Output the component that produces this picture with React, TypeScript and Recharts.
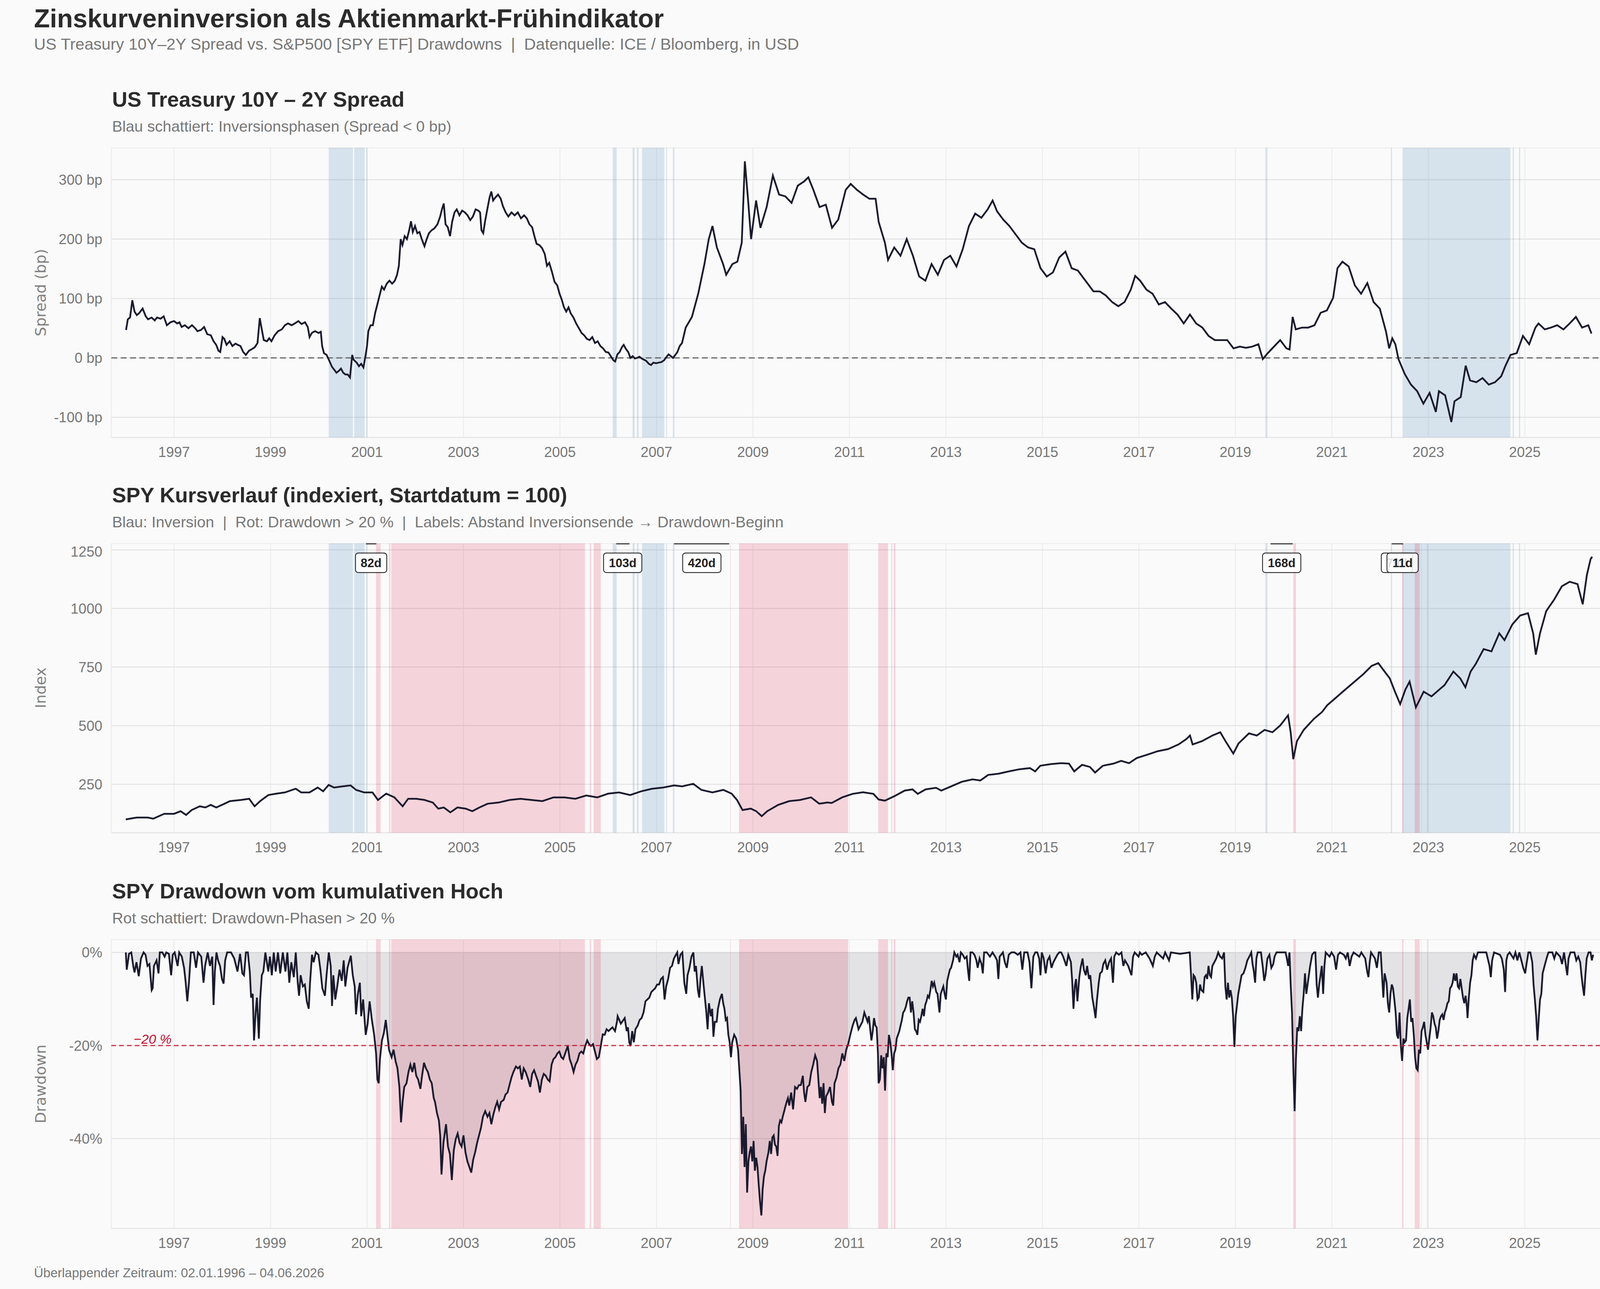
import React from 'react';
import {
  ComposedChart,
  Line,
  Area,
  XAxis,
  YAxis,
  CartesianGrid,
  ReferenceArea,
  ReferenceLine,
  Scatter,
} from 'recharts';

// ---------------- data ----------------
const yearTicks = [1997, 1999, 2001, 2003, 2005, 2007, 2009, 2011, 2013, 2015, 2017, 2019, 2021, 2023, 2025];
const spreadTicks = [-100, 0, 100, 200, 300];
const indexTicks = [250, 500, 750, 1000, 1250];
const drawdownTicks = [-40, -20, 0];

// [decimal year, spread in bp]
const spreadSeries: number[][] = [
  [1996.005,47],[1996.042,65],[1996.088,68],[1996.135,97],[1996.181,78],[1996.228,72],[1996.274,75],[1996.349,83],[1996.414,70],[1996.46,65],
  [1996.535,68],[1996.6,63],[1996.647,68],[1996.721,66],[1996.786,70],[1996.851,55],[1996.926,60],[1997.0,62],[1997.065,58],[1997.112,60],
  [1997.158,52],[1997.223,55],[1997.298,50],[1997.372,55],[1997.437,50],[1997.484,45],[1997.558,47],[1997.623,52],[1997.688,40],[1997.763,38],
  [1997.819,28],[1997.874,22],[1997.921,12],[1997.958,10],[1998.005,35],[1998.042,32],[1998.088,22],[1998.153,28],[1998.209,20],[1998.274,24],
  [1998.321,22],[1998.377,20],[1998.433,10],[1998.488,5],[1998.553,12],[1998.619,15],[1998.674,18],[1998.73,25],[1998.777,67],[1998.814,50],
  [1998.86,30],[1998.926,28],[1998.972,33],[1999.019,28],[1999.084,38],[1999.158,45],[1999.233,48],[1999.298,55],[1999.363,58],[1999.437,55],
  [1999.502,58],[1999.577,62],[1999.642,57],[1999.716,60],[1999.772,52],[1999.809,35],[1999.856,42],[1999.921,45],[1999.995,42],[2000.042,44],
  [2000.07,20],[2000.107,8],[2000.163,5],[2000.219,-5],[2000.274,-15],[2000.321,-20],[2000.367,-25],[2000.414,-22],[2000.46,-18],[2000.507,-25],
  [2000.553,-28],[2000.6,-28],[2000.647,-33],[2000.693,5],[2000.721,-3],[2000.786,-8],[2000.833,-14],[2000.879,-10],[2000.926,-16],[2000.972,5],
  [2001.0,20],[2001.028,45],[2001.074,55],[2001.121,55],[2001.167,75],[2001.214,90],[2001.26,105],[2001.307,120],[2001.353,115],[2001.409,125],
  [2001.465,130],[2001.521,125],[2001.577,130],[2001.623,140],[2001.66,155],[2001.698,200],[2001.735,190],[2001.781,205],[2001.828,200],[2001.874,215],
  [2001.912,230],[2001.949,212],[2001.995,222],[2002.042,210],[2002.088,212],[2002.135,200],[2002.191,188],[2002.237,200],[2002.284,210],[2002.34,215],
  [2002.395,218],[2002.46,225],[2002.516,238],[2002.553,250],[2002.591,260],[2002.628,225],[2002.674,220],[2002.721,205],[2002.767,230],[2002.814,245],
  [2002.86,250],[2002.916,240],[2002.972,248],[2003.028,245],[2003.084,240],[2003.14,232],[2003.195,238],[2003.251,250],[2003.307,248],[2003.344,245],
  [2003.372,215],[2003.409,210],[2003.447,230],[2003.493,250],[2003.54,270],[2003.577,280],[2003.614,265],[2003.66,270],[2003.716,275],[2003.772,268],
  [2003.819,255],[2003.874,245],[2003.93,238],[2003.995,245],[2004.06,240],[2004.126,245],[2004.191,235],[2004.256,240],[2004.312,235],[2004.367,225],
  [2004.423,220],[2004.47,205],[2004.516,192],[2004.572,190],[2004.628,185],[2004.684,175],[2004.73,155],[2004.777,160],[2004.833,145],[2004.888,128],
  [2004.944,122],[2004.991,108],[2005.037,98],[2005.084,85],[2005.13,78],[2005.177,85],[2005.223,75],[2005.279,68],[2005.335,58],[2005.391,50],
  [2005.447,42],[2005.502,38],[2005.558,32],[2005.614,30],[2005.67,35],[2005.726,25],[2005.781,28],[2005.837,20],[2005.893,16],[2005.949,10],
  [2006.005,9],[2006.06,2],[2006.107,-4],[2006.144,-6],[2006.191,6],[2006.237,10],[2006.284,18],[2006.321,22],[2006.367,15],[2006.414,10],
  [2006.46,0],[2006.507,3],[2006.553,-1],[2006.6,0],[2006.647,2],[2006.693,-1],[2006.74,-3],[2006.786,-5],[2006.842,-10],[2006.888,-12],
  [2006.935,-8],[2006.991,-9],[2007.047,-8],[2007.102,-7],[2007.158,-4],[2007.202,1],[2007.251,6],[2007.298,3],[2007.342,0],[2007.391,5],
  [2007.435,10],[2007.481,20],[2007.53,25],[2007.606,51],[2007.735,69],[2007.865,108],[2007.994,158],[2008.084,200],[2008.161,222],[2008.252,186],
  [2008.381,158],[2008.445,140],[2008.574,158],[2008.677,162],[2008.768,194],[2008.832,331],[2008.897,268],[2008.961,200],[2009.065,265],[2009.155,219],
  [2009.284,254],[2009.413,307],[2009.542,275],[2009.671,272],[2009.8,261],[2009.929,290],[2010.058,297],[2010.148,304],[2010.252,283],[2010.381,254],
  [2010.51,258],[2010.639,219],[2010.768,233],[2010.923,283],[2011.026,293],[2011.155,283],[2011.284,275],[2011.413,268],[2011.542,268],[2011.606,229],
  [2011.735,194],[2011.8,165],[2011.929,186],[2012.058,172],[2012.187,200],[2012.316,172],[2012.445,137],[2012.574,130],[2012.703,158],[2012.832,140],
  [2012.961,165],[2013.09,172],[2013.219,154],[2013.348,183],[2013.477,222],[2013.606,243],[2013.735,236],[2013.865,250],[2013.968,265],[2014.058,247],
  [2014.187,233],[2014.316,222],[2014.445,208],[2014.574,194],[2014.703,186],[2014.832,183],[2014.961,151],[2015.09,137],[2015.219,144],[2015.348,169],
  [2015.477,179],[2015.606,151],[2015.735,147],[2015.929,126],[2016.058,112],[2016.187,112],[2016.316,105],[2016.445,94],[2016.574,87],[2016.703,94],
  [2016.832,115],[2016.923,138],[2017.026,130],[2017.155,115],[2017.284,108],[2017.413,90],[2017.542,94],[2017.671,83],[2017.8,73],[2017.929,58],
  [2018.058,73],[2018.187,58],[2018.316,51],[2018.445,37],[2018.574,30],[2018.703,30],[2018.832,30],[2018.961,16],[2019.09,19],[2019.219,17],
  [2019.348,19],[2019.477,23],[2019.568,-2],[2019.671,8],[2019.8,19],[2019.929,30],[2020.058,16],[2020.123,14],[2020.187,69],[2020.252,48],
  [2020.381,51],[2020.51,51],[2020.639,55],[2020.768,76],[2020.897,80],[2021.026,101],[2021.116,151],[2021.219,162],[2021.348,154],[2021.477,122],
  [2021.606,108],[2021.735,126],[2021.865,94],[2021.994,83],[2022.123,44],[2022.187,16],[2022.252,33],[2022.316,23],[2022.381,-2],[2022.51,-27],
  [2022.639,-45],[2022.768,-56],[2022.897,-77],[2023.026,-59],[2023.155,-91],[2023.219,-56],[2023.348,-63],[2023.477,-108],[2023.542,-73],[2023.671,-66],
  [2023.774,-13],[2023.865,-38],[2023.994,-41],[2024.123,-34],[2024.252,-45],[2024.381,-41],[2024.51,-31],[2024.6,-13],[2024.703,5],[2024.832,8],
  [2024.961,37],[2025.09,23],[2025.219,51],[2025.284,58],[2025.413,48],[2025.542,51],[2025.671,55],[2025.8,48],[2025.929,58],[2026.058,69],
  [2026.187,51],[2026.316,55],[2026.381,41],
];

// [decimal year, SPY index (start = 100)]
const spySeries: number[][] = [
  [1996.0,100],[1996.227,108],[1996.455,108],[1996.568,103],[1996.795,124],[1997.0,124],[1997.136,135],[1997.25,119],[1997.364,140],[1997.534,156],
  [1997.648,151],[1997.761,162],[1997.875,151],[1998.045,167],[1998.159,178],[1998.386,183],[1998.557,188],[1998.67,156],[1998.784,178],[1998.955,204],
  [1999.125,210],[1999.295,215],[1999.523,231],[1999.636,215],[1999.807,215],[1999.977,236],[2000.091,220],[2000.205,247],[2000.318,236],[2000.489,241],
  [2000.659,245],[2000.773,226],[2000.943,215],[2001.114,215],[2001.227,183],[2001.398,210],[2001.568,194],[2001.739,156],[2001.852,188],[2002.023,188],
  [2002.193,183],[2002.364,172],[2002.477,146],[2002.591,151],[2002.727,130],[2002.875,151],[2003.045,146],[2003.182,135],[2003.33,151],[2003.5,167],
  [2003.727,172],[2003.955,183],[2004.182,188],[2004.409,183],[2004.636,178],[2004.864,194],[2005.091,194],[2005.318,188],[2005.545,202],[2005.773,194],
  [2006.0,210],[2006.227,215],[2006.455,204],[2006.682,220],[2006.909,231],[2007.136,236],[2007.364,245],[2007.534,241],[2007.761,252],[2007.932,226],
  [2008.159,215],[2008.386,226],[2008.557,210],[2008.67,183],[2008.784,140],[2008.955,146],[2009.068,135],[2009.182,114],[2009.295,135],[2009.523,162],
  [2009.75,178],[2009.977,183],[2010.205,194],[2010.375,167],[2010.545,172],[2010.632,170],[2010.849,194],[2011.065,209],[2011.281,216],[2011.497,209],
  [2011.605,185],[2011.735,180],[2011.93,199],[2012.146,223],[2012.308,228],[2012.416,209],[2012.578,228],[2012.795,235],[2012.903,223],[2013.119,242],
  [2013.335,261],[2013.551,271],[2013.714,266],[2013.876,290],[2014.092,295],[2014.308,305],[2014.524,314],[2014.741,319],[2014.849,305],[2014.957,329],
  [2015.173,336],[2015.389,340],[2015.551,338],[2015.659,305],[2015.822,333],[2015.984,324],[2016.092,300],[2016.254,329],[2016.47,338],[2016.632,350],
  [2016.795,340],[2016.957,362],[2017.173,376],[2017.389,391],[2017.605,400],[2017.822,420],[2017.984,443],[2018.059,458],[2018.114,420],[2018.308,434],
  [2018.524,458],[2018.686,472],[2018.795,434],[2018.957,381],[2019.065,424],[2019.281,467],[2019.443,458],[2019.605,482],[2019.768,472],[2019.93,501],
  [2020.092,544],[2020.146,472],[2020.2,357],[2020.276,434],[2020.416,482],[2020.632,530],[2020.795,558],[2020.903,587],[2021.065,616],[2021.227,645],
  [2021.443,683],[2021.659,721],[2021.822,755],[2021.962,767],[2022.092,731],[2022.2,702],[2022.308,645],[2022.416,592],[2022.524,654],[2022.611,688],
  [2022.741,578],[2022.903,645],[2023.065,625],[2023.227,654],[2023.335,673],[2023.519,731],[2023.66,702],[2023.768,664],[2023.876,731],[2023.984,764],
  [2024.146,827],[2024.308,817],[2024.47,894],[2024.578,865],[2024.741,932],[2024.903,970],[2025.065,980],[2025.173,894],[2025.227,803],[2025.314,894],
  [2025.443,989],[2025.605,1037],[2025.768,1095],[2025.93,1114],[2026.092,1104],[2026.2,1018],[2026.286,1143],[2026.362,1210],[2026.395,1221],
];

// [decimal year, drawdown from running high in %]
const drawdownSeries: number[][] = [
  [1996.0,0],[1996.02,-3.7],[1996.067,-0.3],[1996.114,0],[1996.154,-2.9],[1996.181,-4.3],[1996.221,-2.1],[1996.268,-5.1],[1996.315,-1.3],[1996.369,0],
  [1996.409,-0.5],[1996.45,-2.9],[1996.49,-2.5],[1996.537,-8.1],[1996.557,-7.7],[1996.584,-2.9],[1996.638,-1.7],[1996.678,-4.5],[1996.705,0],[1996.758,0],
  [1996.805,-0.9],[1996.839,0],[1996.893,-0.3],[1996.94,-4.9],[1996.973,-0.5],[1997.013,0],[1997.074,-2.9],[1997.107,0],[1997.161,-0.9],[1997.208,-3.3],
  [1997.242,-6.5],[1997.275,-10.5],[1997.309,-6.5],[1997.349,0],[1997.409,0],[1997.456,-3.3],[1997.497,0],[1997.564,-0.9],[1997.611,-6.5],[1997.644,-2.9],
  [1997.698,0],[1997.745,-2.9],[1997.792,-0.9],[1997.819,-11.3],[1997.846,-4.1],[1997.879,0],[1997.913,-1.7],[1997.953,-2.9],[1997.993,-5.7],[1998.027,-6.7],
  [1998.06,-1.7],[1998.101,0],[1998.181,0],[1998.248,-1.3],[1998.315,-4.1],[1998.369,-0.3],[1998.416,-4.5],[1998.45,-4.9],[1998.49,0],[1998.53,0],
  [1998.57,-4.1],[1998.597,-9.7],[1998.631,-8.9],[1998.658,-18.9],[1998.691,-12.9],[1998.718,-9.7],[1998.758,-18.5],[1998.785,-10.1],[1998.819,-4.9],[1998.852,-4.1],
  [1998.893,0],[1998.953,-4.1],[1998.987,-0.9],[1999.027,-4.9],[1999.067,0],[1999.107,-4.1],[1999.154,0],[1999.201,-4.5],[1999.255,0],[1999.309,-4.1],
  [1999.349,0],[1999.389,-6.5],[1999.43,-2.1],[1999.483,-5.3],[1999.523,0],[1999.564,-6.5],[1999.591,-9.3],[1999.624,-4.9],[1999.671,-7.3],[1999.711,-6.9],
  [1999.752,-10.5],[1999.792,-12.1],[1999.819,-6.5],[1999.859,-0.5],[1999.893,-2.1],[1999.94,0],[1999.993,-0.5],[2000.034,-3.7],[2000.074,-7.7],[2000.128,-9.3],
  [2000.161,-4.9],[2000.208,0],[2000.248,-2.9],[2000.275,-11.5],[2000.302,-4.9],[2000.342,-10.1],[2000.383,-7.3],[2000.43,-3.7],[2000.477,-6.1],[2000.517,-1.7],
  [2000.55,-7.3],[2000.597,-3.3],[2000.638,-1.7],[2000.664,-0.7],[2000.705,-4.9],[2000.745,-7.3],[2000.772,-13.3],[2000.812,-8.9],[2000.852,-6.5],[2000.879,-13.7],
  [2000.919,-10.1],[2000.973,-17.7],[2001.013,-15.3],[2001.054,-10.5],[2001.101,-14.5],[2001.148,-17.7],[2001.188,-21.7],[2001.215,-27.3],[2001.242,-28.1],[2001.268,-22.9],
  [2001.309,-18.9],[2001.349,-17.3],[2001.389,-14.5],[2001.423,-17.7],[2001.456,-20.9],[2001.51,-22.5],[2001.55,-20.9],[2001.591,-23.3],[2001.631,-24.9],[2001.671,-28.9],
  [2001.705,-36.5],[2001.738,-32.1],[2001.772,-28.9],[2001.819,-28.1],[2001.859,-25.7],[2001.899,-24.1],[2001.94,-25.7],[2001.98,-23.7],[2002.02,-26.5],[2002.06,-27.3],
  [2002.107,-29.3],[2002.141,-26.5],[2002.181,-23.7],[2002.221,-24.9],[2002.262,-25.7],[2002.302,-27.3],[2002.342,-28.1],[2002.383,-31.3],[2002.409,-32.1],[2002.45,-34.5],
  [2002.49,-36.1],[2002.517,-39.3],[2002.544,-47.7],[2002.584,-40.9],[2002.611,-38.9],[2002.638,-36.9],[2002.678,-41.7],[2002.718,-43.3],[2002.758,-48.9],[2002.799,-42.5],
  [2002.839,-40.1],[2002.879,-38.9],[2002.919,-40.9],[2002.96,-41.7],[2003.0,-39.3],[2003.04,-42.9],[2003.081,-44.9],[2003.121,-46.1],[2003.161,-47.3],[2003.201,-44.5],
  [2003.242,-42.9],[2003.282,-40.9],[2003.322,-39.3],[2003.362,-37.7],[2003.403,-35.3],[2003.45,-34.1],[2003.497,-35.3],[2003.537,-34.5],[2003.577,-36.9],[2003.617,-34.9],
  [2003.658,-33.3],[2003.698,-32.1],[2003.738,-33.7],[2003.779,-32.1],[2003.832,-31.7],[2003.872,-30.5],[2003.913,-30.1],[2003.953,-28.5],[2003.993,-26.9],[2004.034,-25.7],
  [2004.087,-24.5],[2004.128,-24.9],[2004.168,-24.5],[2004.208,-27.3],[2004.248,-24.9],[2004.289,-25.7],[2004.342,-27.3],[2004.383,-28.9],[2004.423,-26.1],[2004.463,-25.3],
  [2004.503,-26.5],[2004.544,-27.7],[2004.584,-30.1],[2004.624,-27.3],[2004.664,-26.1],[2004.705,-26.5],[2004.745,-27.3],[2004.785,-27.7],[2004.826,-24.1],[2004.866,-22.9],
  [2004.906,-22.5],[2004.946,-21.7],[2004.987,-21.3],[2005.027,-22.5],[2005.067,-22.9],[2005.107,-21.7],[2005.161,-20.1],[2005.201,-22.9],[2005.242,-24.1],[2005.282,-25.7],
  [2005.322,-24.1],[2005.362,-23.3],[2005.403,-21.7],[2005.443,-21.3],[2005.483,-21.7],[2005.523,-20.1],[2005.564,-18.9],[2005.604,-19.7],[2005.644,-20.1],[2005.685,-19.7],
  [2005.725,-21.3],[2005.765,-22.9],[2005.805,-22.5],[2005.846,-20.1],[2005.886,-17.6],[2005.926,-17.7],[2005.966,-16.5],[2006.007,-16.9],[2006.047,-16.5],[2006.087,-16.1],
  [2006.141,-16.9],[2006.181,-14.9],[2006.195,-13.7],[2006.262,-15.3],[2006.315,-14.5],[2006.342,-14.1],[2006.383,-16.9],[2006.409,-16.1],[2006.436,-19.3],[2006.463,-20.1],
  [2006.497,-16.9],[2006.53,-19.3],[2006.564,-16.5],[2006.611,-15.7],[2006.651,-14.5],[2006.691,-14.1],[2006.732,-12.9],[2006.772,-10.5],[2006.812,-10.1],[2006.852,-9.7],
  [2006.893,-8.5],[2006.933,-8.1],[2006.973,-7.7],[2007.013,-6.9],[2007.054,-6.9],[2007.094,-5.7],[2007.134,-5.3],[2007.168,-10.1],[2007.201,-7.3],[2007.242,-5.7],
  [2007.282,-3.3],[2007.322,-2.9],[2007.362,-1.3],[2007.403,-0.5],[2007.43,0],[2007.456,-2.5],[2007.497,-0.5],[2007.537,0],[2007.577,-6.5],[2007.617,-8.9],
  [2007.644,-4.9],[2007.685,-3.3],[2007.725,-0.9],[2007.765,0],[2007.792,-4.1],[2007.819,-2.9],[2007.859,-8.1],[2007.886,-9.7],[2007.913,-5.7],[2007.94,-2.9],
  [2007.98,-7.3],[2008.007,-10.1],[2008.034,-12.9],[2008.06,-16.5],[2008.087,-10.9],[2008.128,-13.7],[2008.154,-12.1],[2008.181,-18.1],[2008.208,-14.9],[2008.248,-14.9],
  [2008.275,-12.1],[2008.315,-10.1],[2008.356,-8.9],[2008.383,-10.9],[2008.409,-12.1],[2008.436,-14.5],[2008.463,-14.1],[2008.49,-17.7],[2008.517,-19.3],[2008.544,-22.5],
  [2008.57,-19.3],[2008.611,-17.7],[2008.651,-18.5],[2008.691,-20.9],[2008.718,-25.3],[2008.745,-29.7],[2008.772,-43.3],[2008.799,-35.3],[2008.826,-46.1],[2008.852,-36.9],
  [2008.879,-51.6],[2008.906,-44.9],[2008.933,-42.9],[2008.96,-41.7],[2008.987,-44.9],[2009.013,-40.5],[2009.04,-46.9],[2009.067,-44.1],[2009.094,-46.1],[2009.121,-50.1],
  [2009.148,-53.7],[2009.174,-56.5],[2009.201,-50.9],[2009.228,-48.1],[2009.255,-46.9],[2009.282,-44.9],[2009.322,-42.9],[2009.349,-40.5],[2009.376,-43.3],[2009.403,-39.7],
  [2009.43,-39.3],[2009.456,-41.3],[2009.483,-41.7],[2009.51,-43.7],[2009.537,-37.3],[2009.564,-36.1],[2009.591,-36.5],[2009.617,-35.3],[2009.658,-33.7],[2009.698,-32.1],
  [2009.725,-31.3],[2009.752,-32.9],[2009.792,-30.1],[2009.832,-33.7],[2009.872,-28.9],[2009.913,-29.3],[2009.953,-28.5],[2009.993,-28.5],[2010.034,-26.5],[2010.06,-30.1],
  [2010.087,-32.1],[2010.128,-28.9],[2010.168,-28.5],[2010.208,-25.7],[2010.248,-24.1],[2010.289,-22.1],[2010.329,-23.3],[2010.356,-27.3],[2010.383,-31.3],[2010.409,-28.9],
  [2010.436,-32.5],[2010.463,-28.1],[2010.49,-34.5],[2010.517,-30.9],[2010.557,-30.1],[2010.597,-28.9],[2010.638,-32.1],[2010.664,-32.9],[2010.691,-28.1],[2010.732,-26.9],
  [2010.772,-24.9],[2010.812,-24.1],[2010.852,-21.7],[2010.893,-23.3],[2010.933,-20.9],[2010.973,-19.7],[2011.0,-18.5],[2011.027,-17.3],[2011.067,-15.7],[2011.107,-14.5],
  [2011.134,-14.1],[2011.161,-15.3],[2011.188,-16.5],[2011.228,-15.7],[2011.268,-14.9],[2011.309,-12.9],[2011.336,-13.7],[2011.376,-14.9],[2011.403,-13.7],[2011.43,-16.5],
  [2011.456,-18.9],[2011.483,-16.9],[2011.51,-14.1],[2011.537,-15.7],[2011.564,-16.1],[2011.591,-21.7],[2011.604,-28.1],[2011.631,-27.3],[2011.658,-22.1],[2011.685,-24.9],
  [2011.711,-22.5],[2011.738,-29.7],[2011.765,-21.7],[2011.792,-22.5],[2011.819,-17.7],[2011.846,-19.3],[2011.872,-21.7],[2011.899,-25.3],[2011.926,-21.7],[2011.953,-20.9],
  [2011.98,-18.5],[2012.007,-17.7],[2012.034,-16.9],[2012.06,-15.7],[2012.087,-14.5],[2012.114,-12.9],[2012.141,-12.5],[2012.168,-11.7],[2012.195,-10.5],[2012.221,-9.7],
  [2012.248,-9.7],[2012.275,-12.9],[2012.302,-10.5],[2012.329,-12.9],[2012.356,-16.5],[2012.383,-16.9],[2012.409,-17.7],[2012.436,-14.5],[2012.463,-14.9],[2012.49,-13.7],
  [2012.517,-12.1],[2012.544,-13.7],[2012.57,-11.3],[2012.597,-10.5],[2012.624,-9.3],[2012.651,-9.7],[2012.678,-8.1],[2012.705,-6.1],[2012.732,-7.3],[2012.758,-6.5],
  [2012.799,-8.5],[2012.826,-8.9],[2012.866,-12.9],[2012.893,-8.9],[2012.919,-8.1],[2012.946,-7.3],[2012.973,-8.9],[2013.0,-10.1],[2013.027,-6.1],[2013.054,-4.9],
  [2013.081,-3.7],[2013.107,-3.3],[2013.148,-1.7],[2013.174,0],[2013.215,-0.9],[2013.242,-0.5],[2013.282,-2.1],[2013.309,0],[2013.349,-0.5],[2013.389,-1.3],
  [2013.43,-0.9],[2013.456,-3.7],[2013.483,-6.1],[2013.51,0],[2013.55,0],[2013.591,-0.5],[2013.631,-1.7],[2013.658,-3.3],[2013.698,-1.3],[2013.738,-2.5],
  [2013.765,-4.5],[2013.792,0],[2013.846,0],[2013.913,-0.9],[2013.966,0],[2014.02,-0.9],[2014.06,-1.7],[2014.087,-5.7],[2014.114,-0.9],[2014.181,0],
  [2014.221,-2.1],[2014.262,-3.3],[2014.302,-0.5],[2014.356,0],[2014.423,0],[2014.49,-0.5],[2014.544,0],[2014.584,-3.7],[2014.624,0],[2014.691,0],
  [2014.732,-2.1],[2014.772,-7.7],[2014.812,-0.9],[2014.852,0],[2014.893,0],[2014.933,-1.3],[2014.96,-4.9],[2014.987,0],[2015.027,-1.3],[2015.067,-4.5],
  [2015.107,-1.7],[2015.148,-0.9],[2015.188,-3.3],[2015.228,-2.1],[2015.268,-1.3],[2015.309,-0.5],[2015.349,0],[2015.389,0],[2015.43,-0.9],[2015.497,-2.9],
  [2015.537,-0.5],[2015.591,-2.1],[2015.617,-6.1],[2015.644,-12.1],[2015.671,-7.3],[2015.698,-5.7],[2015.725,-10.5],[2015.765,-5.3],[2015.792,-3.3],[2015.832,-1.3],
  [2015.859,-3.7],[2015.899,-4.9],[2015.926,-2.9],[2015.966,-5.7],[2015.993,-4.9],[2016.034,-9.7],[2016.074,-12.1],[2016.101,-14.1],[2016.128,-10.5],[2016.168,-6.5],
  [2016.195,-4.5],[2016.235,-4.1],[2016.262,-2.5],[2016.302,-1.7],[2016.342,-3.7],[2016.383,-2.1],[2016.423,-1.3],[2016.463,-6.5],[2016.49,-0.9],[2016.53,0],
  [2016.584,-0.5],[2016.638,0],[2016.678,-2.9],[2016.711,-1.7],[2016.779,-2.9],[2016.846,-4.9],[2016.879,-0.9],[2016.913,0],[2016.993,-0.9],[2017.02,0],
  [2017.06,-0.5],[2017.141,0],[2017.221,-1.3],[2017.289,-2.9],[2017.329,-0.9],[2017.369,0],[2017.463,-0.9],[2017.503,-1.3],[2017.544,0],[2017.624,-1.7],
  [2017.664,0],[2017.852,-0.3],[2018.054,0],[2018.081,-4.9],[2018.107,-10.1],[2018.134,-4.9],[2018.161,-5.3],[2018.188,-6.5],[2018.215,-10.1],[2018.242,-9.7],
  [2018.268,-6.9],[2018.295,-8.1],[2018.336,-8.5],[2018.362,-5.3],[2018.389,-4.9],[2018.416,-5.7],[2018.443,-2.9],[2018.47,-4.9],[2018.497,-5.3],[2018.523,-2.9],
  [2018.564,-2.1],[2018.604,-1.3],[2018.644,0],[2018.685,-0.9],[2018.725,-1.3],[2018.765,0],[2018.792,-7.3],[2018.819,-10.1],[2018.846,-6.5],[2018.872,-9.7],
  [2018.899,-8.1],[2018.926,-9.7],[2018.953,-13.7],[2018.98,-20.3],[2019.007,-13.7],[2019.034,-11.3],[2019.06,-8.9],[2019.087,-7.3],[2019.128,-4.9],[2019.168,-4.5],
  [2019.208,-3.3],[2019.248,-1.7],[2019.289,-0.9],[2019.329,0],[2019.356,-2.5],[2019.383,-4.1],[2019.409,-6.5],[2019.436,-1.3],[2019.463,0],[2019.53,0],
  [2019.57,-3.3],[2019.597,-6.1],[2019.624,-4.9],[2019.664,-1.3],[2019.705,-0.5],[2019.745,-3.3],[2019.785,-2.5],[2019.812,-0.9],[2019.852,0],[2020.04,0],
  [2020.067,-1.3],[2020.094,-2.9],[2020.121,0],[2020.148,-7.3],[2020.174,-12.9],[2020.201,-24.9],[2020.228,-34.1],[2020.255,-22.9],[2020.282,-16.1],[2020.309,-16.9],
  [2020.336,-13.7],[2020.362,-16.9],[2020.389,-12.1],[2020.416,-8.9],[2020.443,-4.5],[2020.47,-8.9],[2020.497,-6.9],[2020.523,-4.9],[2020.55,-2.9],[2020.591,-0.5],
  [2020.631,0],[2020.658,0],[2020.685,-6.9],[2020.711,-9.7],[2020.738,-6.9],[2020.765,-4.9],[2020.792,-2.9],[2020.819,-8.9],[2020.846,-2.9],[2020.872,0],
  [2020.953,-0.9],[2020.993,0],[2021.047,-0.9],[2021.087,-3.7],[2021.128,-0.5],[2021.168,0],[2021.248,-0.5],[2021.289,-1.3],[2021.329,0],[2021.369,-2.9],
  [2021.409,-0.9],[2021.45,0],[2021.57,-0.9],[2021.611,0],[2021.691,-1.3],[2021.732,-4.1],[2021.758,-5.3],[2021.785,-2.1],[2021.812,0],[2021.893,-1.3],
  [2021.933,-3.3],[2021.973,0],[2022.013,0],[2022.04,-4.9],[2022.067,-9.7],[2022.094,-4.5],[2022.134,-6.5],[2022.161,-10.9],[2022.188,-12.9],[2022.215,-8.9],
  [2022.242,-6.9],[2022.268,-7.7],[2022.295,-10.1],[2022.322,-12.9],[2022.349,-17.7],[2022.376,-18.5],[2022.403,-12.9],[2022.43,-20.1],[2022.456,-23.3],[2022.483,-18.5],
  [2022.51,-19.3],[2022.537,-18.9],[2022.564,-14.1],[2022.591,-12.1],[2022.617,-10.1],[2022.644,-14.9],[2022.671,-14.1],[2022.698,-17.7],[2022.725,-22.5],[2022.752,-24.9],
  [2022.779,-25.3],[2022.805,-20.9],[2022.832,-21.7],[2022.859,-16.9],[2022.886,-16.1],[2022.913,-14.9],[2022.94,-17.7],[2022.966,-19.3],[2022.993,-20.9],[2023.02,-18.5],
  [2023.047,-16.1],[2023.074,-12.9],[2023.101,-13.7],[2023.128,-15.3],[2023.154,-16.1],[2023.181,-18.5],[2023.208,-16.9],[2023.235,-14.5],[2023.262,-13.7],[2023.289,-13.3],
  [2023.315,-14.5],[2023.342,-12.9],[2023.369,-12.1],[2023.396,-10.9],[2023.423,-10.5],[2023.45,-7.7],[2023.477,-7.3],[2023.503,-6.5],[2023.53,-4.5],[2023.557,-6.1],
  [2023.584,-4.5],[2023.611,-7.3],[2023.638,-7.7],[2023.664,-5.7],[2023.691,-7.7],[2023.718,-9.7],[2023.745,-10.9],[2023.772,-9.3],[2023.799,-11.7],[2023.812,-14.1],
  [2023.839,-9.7],[2023.866,-6.5],[2023.893,-4.9],[2023.919,-1.7],[2023.946,-0.5],[2023.987,-1.3],[2024.027,0],[2024.107,0],[2024.201,0],[2024.268,-2.9],
  [2024.295,-5.3],[2024.322,-1.7],[2024.362,0],[2024.483,-0.5],[2024.523,-1.3],[2024.564,-3.7],[2024.591,-8.5],[2024.617,-1.7],[2024.644,-0.5],[2024.685,0],
  [2024.765,-1.3],[2024.805,0],[2024.846,-1.7],[2024.886,0],[2024.966,-3.3],[2025.007,-4.5],[2025.034,-2.5],[2025.074,0],[2025.114,0],[2025.154,-2.1],
  [2025.181,-6.9],[2025.208,-10.1],[2025.235,-13.7],[2025.262,-18.9],[2025.289,-14.1],[2025.315,-10.1],[2025.342,-8.9],[2025.369,-4.5],[2025.409,-2.9],[2025.45,-1.3],
  [2025.49,0],[2025.57,0],[2025.611,-1.3],[2025.651,0],[2025.732,-0.9],[2025.772,-2.5],[2025.812,0],[2025.879,-4.9],[2025.906,-1.3],[2025.946,0],
  [2026.027,0],[2026.067,-1.7],[2026.107,-0.9],[2026.148,-2.1],[2026.174,-4.9],[2026.201,-7.3],[2026.228,-9.3],[2026.255,-4.9],[2026.282,-1.3],[2026.322,0],
  [2026.362,0],[2026.389,-1.7],[2026.416,-0.5],
];

// inversion phases (spread < 0), decimal years
const inversionStart = [2000.206, 2000.733, 2000.984, 2006.093, 2006.506, 2006.595, 2006.70, 2007.202, 2007.34, 2019.623, 2022.223, 2022.466, 2024.749, 2024.879];
const inversionEnd   = [2000.708, 2000.951, 2001.008, 2006.174, 2006.547, 2006.628, 2007.162, 2007.219, 2007.372, 2019.664, 2022.247, 2024.70, 2024.773, 2024.903];

// drawdown phases (> 20 %), decimal years
const drawdownStart = [2001.188, 2001.456, 2001.503, 2005.617, 2005.698, 2008.527, 2008.711, 2011.597, 2011.866, 2011.919, 2020.201, 2022.456, 2022.718, 2022.852, 2022.975];
const drawdownEnd   = [2001.282, 2001.483, 2005.517, 2005.644, 2005.846, 2008.537, 2010.973, 2011.799, 2011.886, 2011.953, 2020.255, 2022.483, 2022.819, 2022.858, 2022.99];

// gap labels: inversion end -> drawdown start
const gapText  = ['82d', '103d', '420d', '168d', '70d', '11d'];
const gapFrom  = [2000.976, 2006.166, 2007.364, 2019.729, 2022.239, 2022.445];
const gapTo    = [2001.194, 2006.441, 2008.506, 2020.19, 2022.474, 2022.474];
const gapLabelAt = [2001.085, 2006.30, 2007.94, 2019.96, 2022.348, 2022.466];

// ---------------- styling ----------------
const BG = '#fafafa';
const INK = '#1a1a2e';
const GRID = '#e3e3e3';
const GREY_TEXT = '#777777';
const TITLE = '#2b2b2b';
const FONT = '"Liberation Sans", Arial, Helvetica, sans-serif';
const AXIS_FONT = '"DejaVu Sans", Verdana, sans-serif';
const BLUE = '#4682b4';
const RED = '#dc143c';
const X_DOMAIN: [number, number] = [1995.7, 2026.72];
const LABEL_Y = 1195;
const INDEX_TOP = 1278;
const LINE_W = 4.5;

const tickStyle = { fontSize: 36.5, fill: GREY_TEXT, fontFamily: FONT };

const spreadData = spreadSeries.map(([t, v]) => ({ t, v }));
const spyData = spySeries.map(([t, v]) => ({ t, v }));
const ddData = drawdownSeries.map(([t, v]) => ({ t, v }));
const gapLabelData = gapText.map((text, i) => ({ t: gapLabelAt[i], v: LABEL_Y, text }));

const chartMargin = { top: 0, right: 84, bottom: 0, left: 0 };

const xAxisProps: any = {
  dataKey: 't',
  type: 'number',
  domain: X_DOMAIN,
  ticks: yearTicks,
  allowDataOverflow: true,
  interval: 0,
  axisLine: false,
  tickLine: false,
  tickSize: 0,
  tickMargin: 24,
  height: 60,
  tick: tickStyle,
  tickFormatter: (v: number) => String(Math.round(v)),
};

const yAxisBase: any = {
  type: 'number',
  allowDataOverflow: true,
  width: 285,
  axisLine: false,
  tickLine: false,
  tickSize: 0,
  tickMargin: 23,
  tick: tickStyle,
};

function grids() {
  return [
    <CartesianGrid key="gh" vertical={false} stroke={GRID} strokeWidth={2.6} />,
    <CartesianGrid key="gv" horizontal={false} stroke="#e6e6e6" strokeWidth={1.6} />,
  ];
}

function blueAreas() {
  return inversionStart.map((s, i) => (
    <ReferenceArea key={'b' + i} x1={s} x2={inversionEnd[i]} fill={BLUE} fillOpacity={0.2} stroke="none" ifOverflow="hidden" />
  ));
}

function redAreas() {
  return drawdownStart.map((s, i) => (
    <ReferenceArea key={'r' + i} x1={s} x2={drawdownEnd[i]} fill={RED} fillOpacity={0.17} stroke="none" ifOverflow="hidden" />
  ));
}

const GapLabel = (props: any) => {
  const { cx, cy } = props;
  const text: string = (props.payload && props.payload.text) || '';
  const w = text.length * 18 + 26;
  const h = 50;
  return (
    <g>
      <rect x={cx - w / 2} y={cy - h / 2} width={w} height={h} rx={7} ry={7} fill="#ffffff" fillOpacity={0.85} stroke="#2b2b2b" strokeWidth={2.2} />
      <text x={cx} y={cy + 11} textAnchor="middle" fontFamily={FONT} fontWeight="bold" fontSize={31} fill="#222222">
        {text}
      </text>
    </g>
  );
};

export default function App() {
  return (
    <div style={{ position: 'absolute', left: 0, top: 0, width: 4200, height: 3300, background: BG, overflow: 'hidden' }}>
      {/* Panel 1: spread */}
      <div style={{ position: 'absolute', left: 0, top: 378 }}>
        <ComposedChart width={4200} height={802} data={spreadData} margin={chartMargin}>
          {grids()}
          {blueAreas()}
          <XAxis {...xAxisProps} />
          <YAxis {...yAxisBase} domain={[-134, 354]} ticks={spreadTicks} tickFormatter={(v: number) => `${v} bp`} />
          <ReferenceLine y={0} stroke="#666666" strokeWidth={3} strokeDasharray="15 9" />
          <Line dataKey="v" type="linear" stroke={INK} strokeWidth={LINE_W} dot={false} isAnimationActive={false} />
        </ComposedChart>
      </div>

      {/* Panel 2: SPY index */}
      <div style={{ position: 'absolute', left: 0, top: 1391 }}>
        <ComposedChart width={4200} height={801} data={spyData} margin={chartMargin}>
          {grids()}
          {blueAreas()}
          {redAreas()}
          <XAxis {...xAxisProps} />
          <YAxis {...yAxisBase} domain={[43, INDEX_TOP]} ticks={indexTicks} />
          {gapFrom.map((f, i) => (
            <ReferenceLine
              key={'seg' + i}
              segment={[{ x: f, y: INDEX_TOP }, { x: gapTo[i], y: INDEX_TOP }]}
              stroke="#222222"
              strokeWidth={5}
              ifOverflow="visible"
            />
          ))}
          <Line dataKey="v" type="linear" stroke={INK} strokeWidth={LINE_W} dot={false} isAnimationActive={false} />
          <Scatter data={gapLabelData} dataKey="v" shape={GapLabel} isAnimationActive={false} />
        </ComposedChart>
      </div>

      {/* Panel 3: drawdown */}
      <div style={{ position: 'absolute', left: 0, top: 2405 }}>
        <ComposedChart width={4200} height={800} data={ddData} margin={chartMargin}>
          {grids()}
          {redAreas()}
          <XAxis {...xAxisProps} />
          <YAxis {...yAxisBase} domain={[-59.3, 2.8]} ticks={drawdownTicks} tickFormatter={(v: number) => `${v}%`} />
          <Area
            dataKey="v"
            type="linear"
            baseValue={0}
            fill={INK}
            fillOpacity={0.1}
            stroke={INK}
            strokeWidth={LINE_W}
            dot={false}
            isAnimationActive={false}
          />
          <ReferenceLine y={-20} stroke="#c8102e" strokeWidth={3} strokeDasharray="12 8" strokeOpacity={0.85} />
        </ComposedChart>
      </div>

      {/* text overlay */}
      <svg width={4200} height={3300} style={{ position: 'absolute', left: 0, top: 0, pointerEvents: 'none' }}>
        <text x={87} y={70} fontFamily={FONT} fontWeight="bold" fontSize={66.5} fill={TITLE}>
          Zinskurveninversion als Aktienmarkt-Frühindikator
        </text>
        <text x={87} y={127} fontFamily={FONT} fontSize={41.5} fill={GREY_TEXT} style={{ whiteSpace: 'pre' }}>
          US Treasury 10Y–2Y Spread vs. S&amp;P500 [SPY ETF] Drawdowns  |  Datenquelle: ICE / Bloomberg, in USD
        </text>

        <text x={287} y={273} fontFamily={FONT} fontWeight="bold" fontSize={54} fill={TITLE}>
          US Treasury 10Y – 2Y Spread
        </text>
        <text x={287} y={337} fontFamily={FONT} fontSize={39.5} fill={GREY_TEXT}>
          Blau schattiert: Inversionsphasen (Spread &lt; 0 bp)
        </text>

        <text x={287} y={1286} fontFamily={FONT} fontWeight="bold" fontSize={54} fill={TITLE}>
          SPY Kursverlauf (indexiert, Startdatum = 100)
        </text>
        <text x={287} y={1350} fontFamily={FONT} fontSize={39.5} fill={GREY_TEXT} style={{ whiteSpace: 'pre' }}>
          Blau: Inversion  |  Rot: Drawdown &gt; 20 %  |  Labels: Abstand Inversionsende → Drawdown-Beginn
        </text>

        <text x={287} y={2300} fontFamily={FONT} fontWeight="bold" fontSize={54} fill={TITLE}>
          SPY Drawdown vom kumulativen Hoch
        </text>
        <text x={287} y={2364} fontFamily={FONT} fontSize={39.5} fill={GREY_TEXT}>
          Rot schattiert: Drawdown-Phasen &gt; 20 %
        </text>

        <text transform="translate(117,749) rotate(-90)" textAnchor="middle" fontFamily={AXIS_FONT} fontSize={38} fill="#808080">
          Spread (bp)
        </text>
        <text transform="translate(117,1761) rotate(-90)" textAnchor="middle" fontFamily={AXIS_FONT} fontSize={38} fill="#808080">
          Index
        </text>
        <text transform="translate(117,2775) rotate(-90)" textAnchor="middle" fontFamily={AXIS_FONT} fontSize={38} fill="#808080">
          Drawdown
        </text>

        <text x={342} y={2672} fontFamily={FONT} fontStyle="italic" fontSize={34} fill="#c8102e">
          −20 %
        </text>

        <text x={87} y={3270} fontFamily={FONT} fontSize={33} fill={GREY_TEXT}>
          Überlappender Zeitraum: 02.01.1996 – 04.06.2026
        </text>
      </svg>
    </div>
  );
}
